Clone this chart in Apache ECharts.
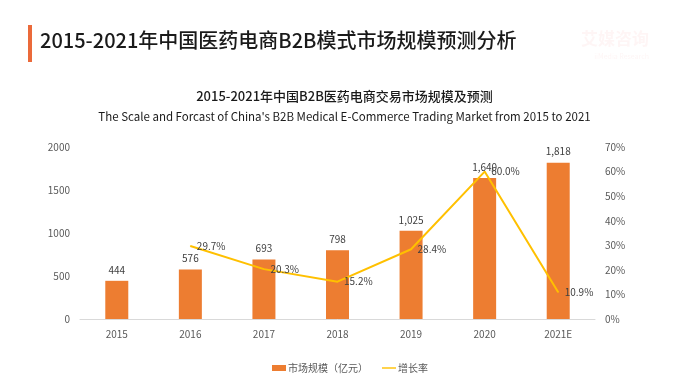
<!DOCTYPE html>
<html><head><meta charset="utf-8">
<script src="https://cdn.jsdelivr.net/npm/echarts@6/dist/echarts.min.js"></script>
<style>html,body{margin:0;padding:0;background:#fff;}#c{width:689px;height:391px;}</style>
</head><body><div id="c"></div>
<script>
const categories = ['2015','2016','2017','2018','2019','2020','2021E'];
const marketSize = [444, 576, 693, 798, 1025, 1640, 1818];
const growthRate = [null, 29.7, 20.3, 15.2, 28.4, 60.0, 10.9];
const leftTicks = [0, 500, 1000, 1500, 2000];
const rightTicks = [0, 10, 20, 30, 40, 50, 60, 70];

const font = '"Noto Sans CJK SC", "Noto Sans", sans-serif';
const chart = echarts.init(document.getElementById('c'));
chart.setOption({
  backgroundColor: '#fff',
  textStyle: {fontFamily: font},
  graphic: [
    {type: 'rect', shape: {x: 28, y: 25, width: 4, height: 37}, style: {fill: '#EB6A3A'}},
    {type: 'text', left: 40, top: 30, style: {text: '2015-2021年中国医药电商B2B模式市场规模预测分析', font: '500 20px ' + font, fill: '#1a1a1a'}},
    {type: 'text', right: 40, top: 30, style: {text: '艾媒咨询', font: 'bold 17px ' + font, fill: 'rgba(235,120,110,0.07)'}},
    {type: 'text', right: 40, top: 53, style: {text: 'iiMedia Research', font: '7px ' + font, fill: 'rgba(235,120,110,0.07)'}}
  ],
  title: [
    {text: '2015-2021年中国B2B医药电商交易市场规模及预测', left: 'center', top: 85, textStyle: {fontSize: 13, fontWeight: 500, color: '#1a1a1a', fontFamily: font}},
    {text: "The Scale and Forcast of China's B2B Medical E-Commerce Trading Market from 2015 to 2021", left: 'center', top: 106, textStyle: {fontSize: 11.5, fontWeight: 'normal', color: '#1a1a1a', fontFamily: font}}
  ],
  grid: {left: 80, right: 94, top: 147, bottom: 72},
  legend: {
    bottom: 13, left: 267, itemGap: 14, itemWidth: 14, itemHeight: 6,
    textStyle: {fontSize: 10, color: '#595959', fontFamily: font, padding: [0, 0, 0, -3]},
    data: [{name: '市场规模（亿元）', icon: 'rect'}, {name: '增长率', icon: 'path://M0,0 L20,0 L20,2 L0,2 Z', itemStyle: {color: '#FFC000'}}]
  },
  xAxis: {
    type: 'category', data: categories,
    axisLine: {lineStyle: {color: '#d9d9d9'}}, axisTick: {show: false},
    axisLabel: {color: '#595959', fontSize: 10, margin: 10, fontFamily: font}
  },
  yAxis: [
    {type: 'value', min: 0, max: 2000, interval: 500, splitLine: {show: false}, axisLine: {show: false}, axisTick: {show: false},
     axisLabel: {color: '#595959', fontSize: 10, margin: 10, formatter: v => String(v), fontFamily: font}},
    {type: 'value', min: 0, max: 70, interval: 10, splitLine: {show: false}, axisLine: {show: false}, axisTick: {show: false},
     axisLabel: {color: '#595959', fontSize: 10, margin: 10, formatter: '{value}%', fontFamily: font}}
  ],
  series: [
    {name: '市场规模（亿元）', type: 'bar', data: marketSize, barWidth: 23, itemStyle: {color: '#ED7D31'},
     label: {show: true, position: 'top', distance: 6, color: '#404040', fontSize: 10,
       formatter: p => Number(p.value).toLocaleString('en-US'), fontFamily: font}},
    {name: '增长率', type: 'line', yAxisIndex: 1, data: growthRate, symbol: 'circle', symbolSize: 1, showSymbol: true, connectNulls: false,
     lineStyle: {color: '#FFC000', width: 2}, itemStyle: {color: '#FFC000'},
     label: {show: true, position: 'right', distance: 6, color: '#404040', fontSize: 10,
       formatter: p => (p.value == null || p.value === '-') ? '' : Number(p.value).toFixed(1) + '%', fontFamily: font}}
  ]
});
</script></body></html>
